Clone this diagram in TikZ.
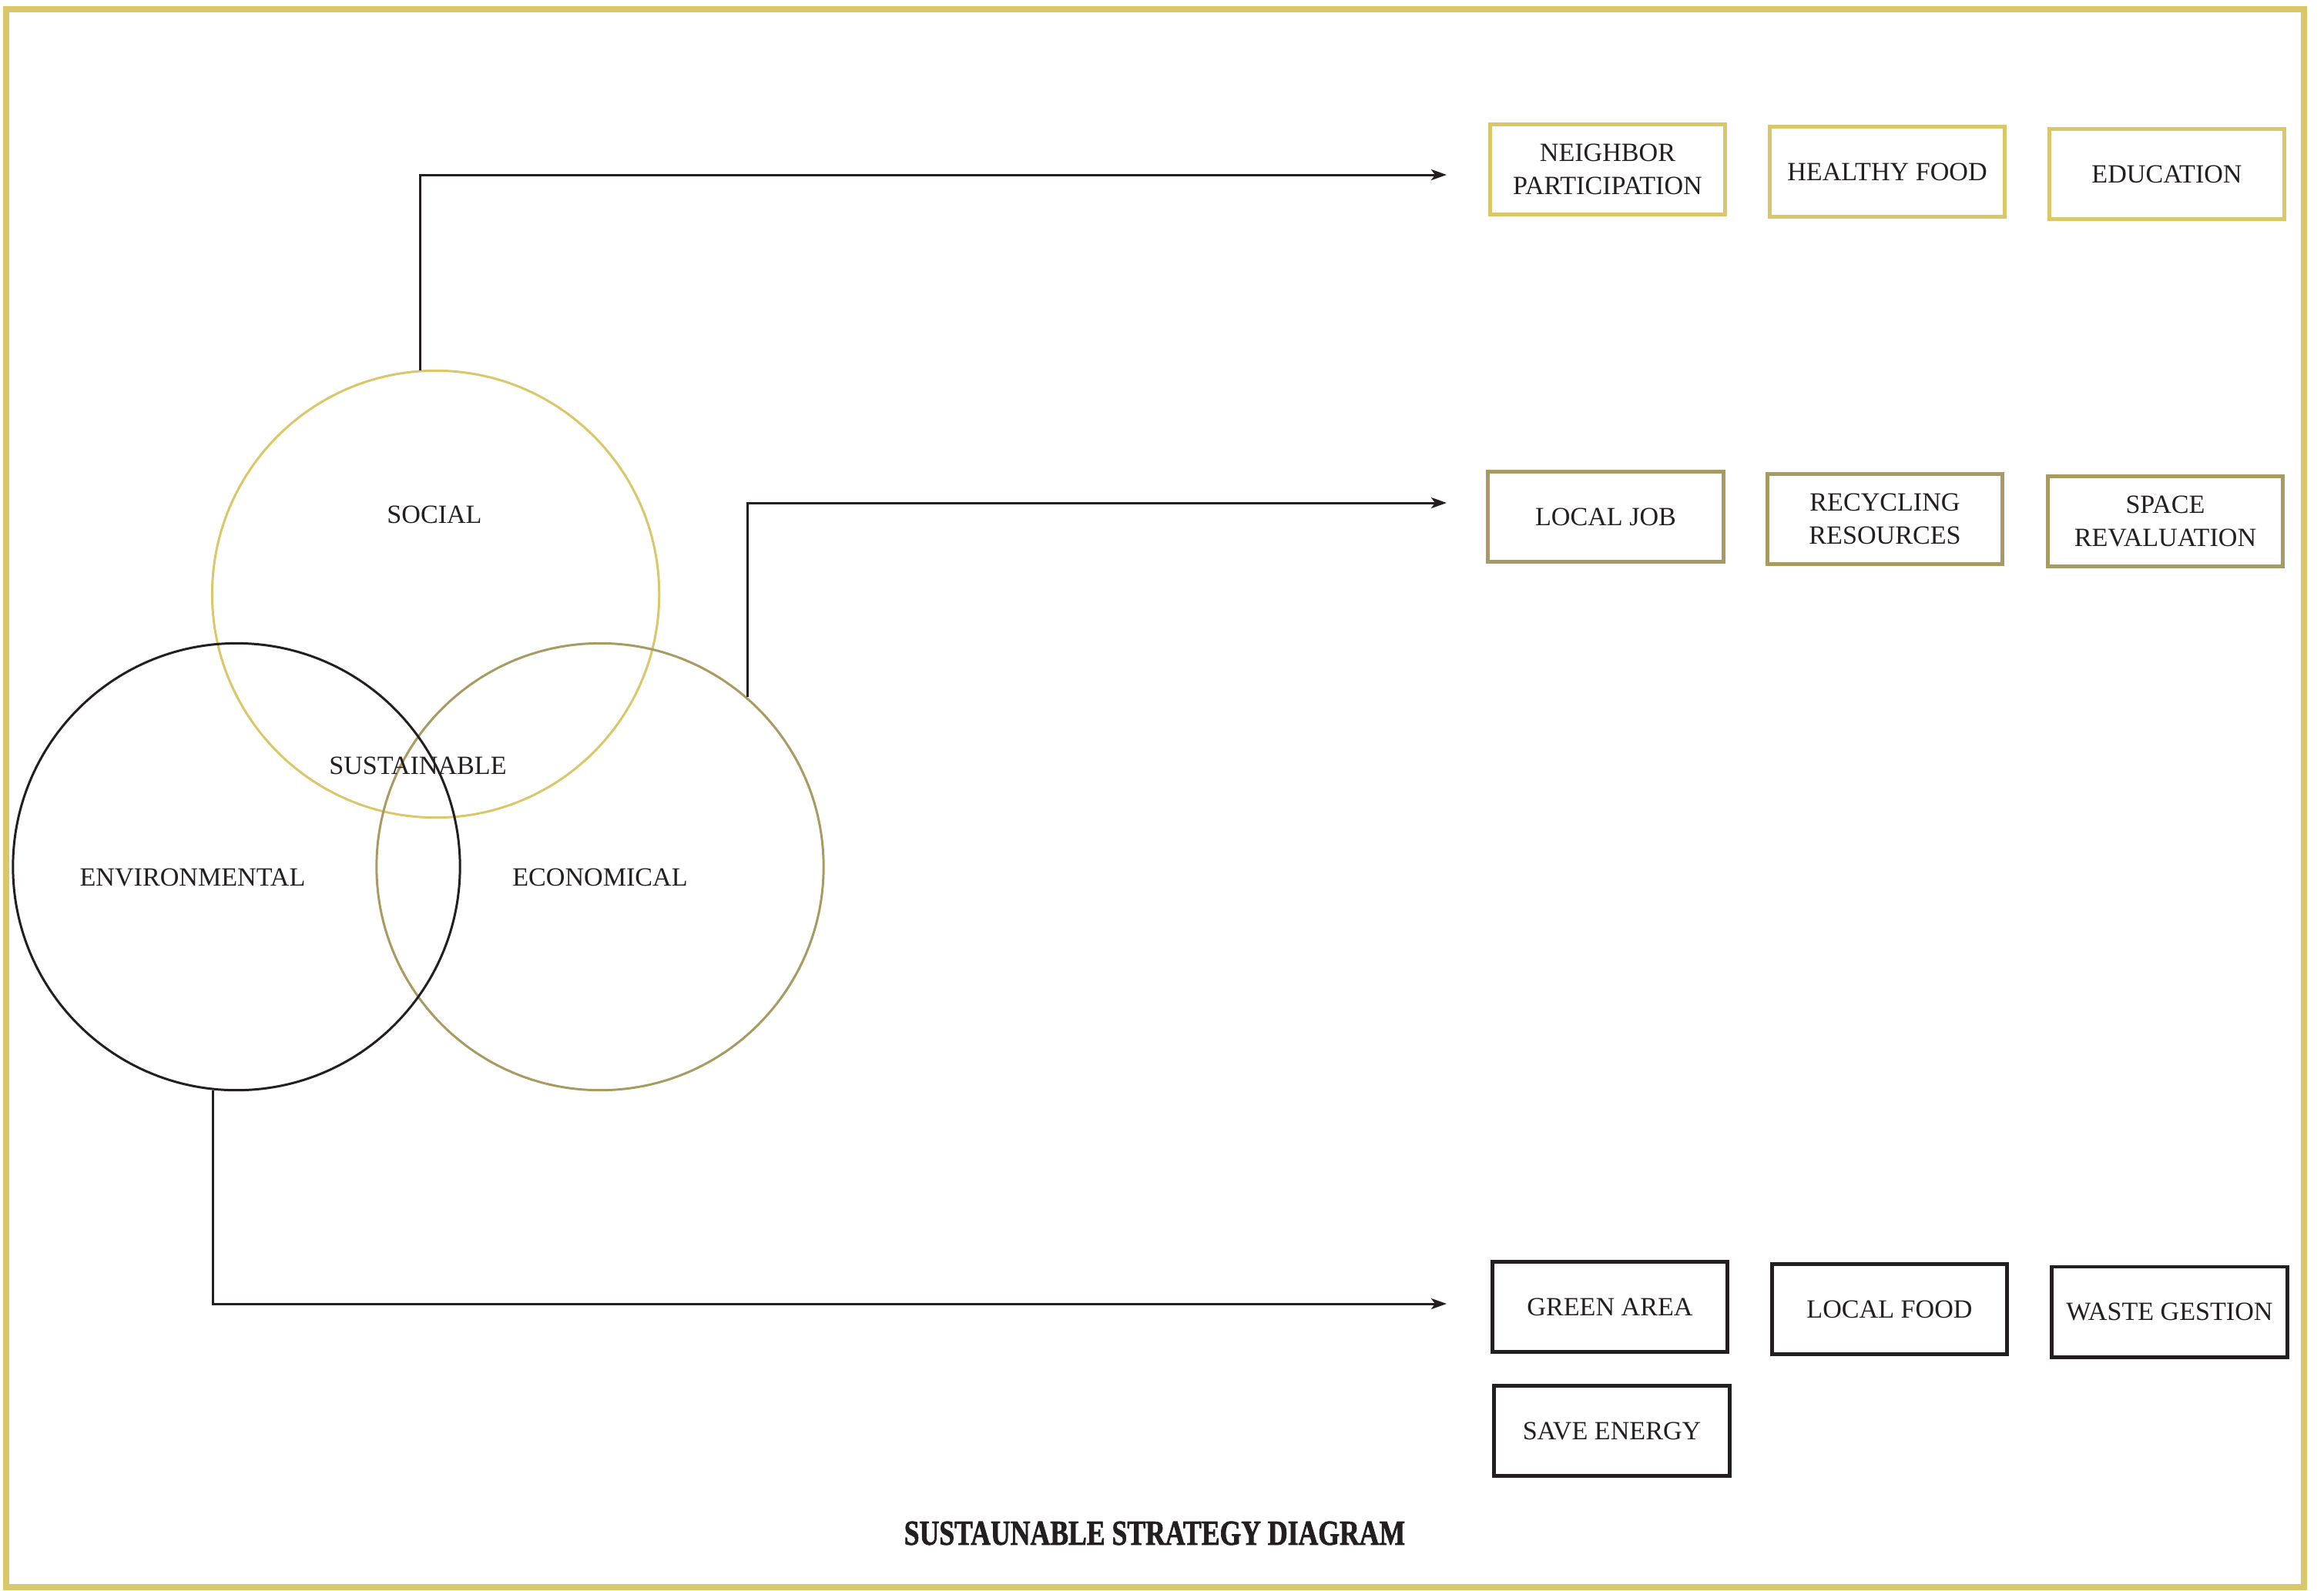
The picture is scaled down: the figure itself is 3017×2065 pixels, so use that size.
\documentclass[tikz,border=0pt]{standalone}
\usepackage{fontspec}
\setmainfont{Liberation Serif}
\newfontfamily\titlefont[FakeStretch=0.78,FakeBold=1.5]{Liberation Serif Bold}
\usetikzlibrary{arrows.meta}
\definecolor{gold}{HTML}{DAC76A}
\definecolor{olive}{HTML}{A89B62}
\definecolor{ink}{HTML}{231F20}
\tikzset{
  ring/.style={circle, minimum size=5.8cm, inner sep=0pt, line width=0.85pt},
  lbl/.style={text=ink, font=\fontsize{9.7}{12.2}\selectfont, inner sep=0pt},
  sbox/.style={draw, rectangle, minimum width=3.05cm, minimum height=1.17cm, inner sep=0pt,
    line width=1.42pt, align=center, text=ink, font=\fontsize{9.7}{12.2}\selectfont},
  goldbox/.style={sbox, draw=gold},
  olivebox/.style={sbox, draw=olive},
  inkbox/.style={sbox, draw=ink},
  conn/.style={draw=ink, line width=0.85pt, -{Stealth[length=2mm,width=1.4mm,inset=0.5mm]}}
}
\begin{document}
\begin{tikzpicture}[x=0.01cm, y=-0.01cm]
\useasboundingbox (0,0) rectangle (3017,2065);
\draw[gold, line width=2.3pt] (8,12) rectangle (2991,2061);
% circles
\node[ring, draw=gold] (soc) at (565.6,771.5) {};
\node[ring, draw=olive] (eco) at (779,1125.5) {};
\node[ring, draw=ink] (env) at (307,1125.5) {};
% labels
\node[lbl] (lsoc) at (564,668) {SOCIAL};
\node[lbl] (lsus) at (542.5,994) {SUSTAINABLE};
\node[lbl] (lenv) at (250,1139) {ENVIRONMENTAL};
\node[lbl] (leco) at (779,1139) {ECONOMICAL};
% arrow end points
\coordinate (c1) at (1878,227);
\coordinate (c2) at (1878,653);
\coordinate (c3) at (1878,1693);
\draw[conn] (soc.94.8) |- (c1);
\draw[conn] (eco.49.7) |- (c2);
\draw[conn] (env.264.7) |- (c3);
% boxes
\node[goldbox] (np) at (2087,220) {NEIGHBOR\\PARTICIPATION};
\node[goldbox] (hf) at (2450,223) {HEALTHY FOOD};
\node[goldbox] (ed) at (2813,226) {EDUCATION};
\node[olivebox] (lj) at (2084.5,671) {LOCAL JOB};
\node[olivebox] (rr) at (2447,674) {RECYCLING\\RESOURCES};
\node[olivebox] (sr) at (2811,677) {SPACE\\REVALUATION};
\node[inkbox] (ga) at (2090,1697) {GREEN AREA};
\node[inkbox] (lf) at (2453,1700) {LOCAL FOOD};
\node[inkbox] (wg) at (2816.5,1703.5) {WASTE GESTION};
\node[inkbox] (se) at (2092.5,1858) {SAVE ENERGY};
% title
\node[text=ink, inner sep=0pt, font=\titlefont\fontsize{13}{15}\selectfont] (title) at (1499,1991) {SUSTAUNABLE STRATEGY DIAGRAM};
\end{tikzpicture}
\end{document}
